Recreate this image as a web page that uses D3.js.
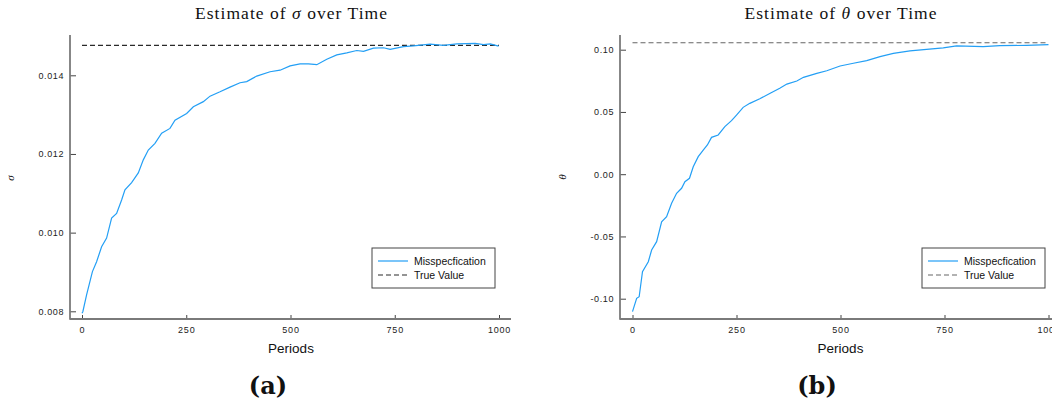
<!DOCTYPE html>
<html>
<head>
<meta charset="utf-8">
<script src="https://cdn.jsdelivr.net/npm/d3@7"></script>
<style>
  html, body { margin: 0; padding: 0; background: #fff; }
  svg { display: block; }
</style>
</head>
<body>
<svg id="chart" width="1052" height="404"></svg>
<script>
// Recursive estimates of sigma over 1000 periods
const sigmaPeriods = [0, 2, 11, 25, 35, 47, 59, 71, 83, 95, 103, 119, 135, 147, 159, 175, 191, 211, 223, 251, 267, 291, 307, 331, 355, 379, 395, 419, 451, 475, 499, 523, 543, 563, 587, 611, 635, 659, 675, 699, 723, 739, 771, 795, 835, 867, 899, 943, 963, 979, 999];
const sigmaEstimates = [0.00795, 0.00799, 0.00842, 0.00901, 0.00926, 0.00964, 0.00986, 0.01037, 0.01049, 0.01083, 0.01109, 0.01127, 0.01152, 0.01185, 0.01210, 0.01227, 0.01253, 0.01265, 0.01286, 0.01303, 0.01320, 0.01333, 0.01347, 0.01358, 0.01370, 0.01381, 0.01384, 0.01398, 0.01409, 0.01413, 0.01424, 0.01429, 0.01429, 0.01427, 0.01441, 0.01452, 0.01457, 0.01463, 0.01461, 0.01469, 0.01470, 0.01466, 0.01473, 0.01475, 0.01479, 0.01476, 0.01480, 0.01481, 0.01478, 0.01480, 0.01474];
const sigmaTrue = 0.01476;

// Recursive estimates of theta over 1000 periods
const thetaPeriods = [0, 10, 16, 24, 38, 46, 58, 70, 82, 94, 106, 118, 126, 137, 146, 158, 170, 180, 190, 206, 222, 238, 250, 266, 282, 306, 331, 354, 371, 395, 411, 443, 467, 499, 531, 563, 595, 627, 667, 707, 747, 779, 843, 883, 947, 1000];
const thetaEstimates = [-0.1104, -0.0997, -0.0984, -0.0783, -0.0703, -0.0609, -0.0542, -0.0382, -0.0341, -0.0234, -0.0153, -0.0113, -0.0060, -0.0033, 0.0060, 0.0141, 0.0194, 0.0235, 0.0296, 0.0315, 0.0382, 0.0430, 0.0475, 0.0537, 0.0569, 0.0606, 0.0650, 0.0690, 0.0724, 0.0749, 0.0778, 0.0810, 0.0831, 0.0869, 0.0891, 0.0912, 0.0944, 0.0971, 0.0990, 0.1003, 0.1014, 0.1030, 0.1024, 0.1032, 0.1035, 0.1040];
const thetaTrue = 0.1056;

// Axis ticks
const xTicks = [0, 250, 500, 750, 1000];
const sigmaTicks = [0.008, 0.010, 0.012, 0.014];
const sigmaTickLabels = ["0.008", "0.010", "0.012", "0.014"];
const thetaTicks = [-0.10, -0.05, 0.00, 0.05, 0.10];
const thetaTickLabels = ["-0.10", "-0.05", "0.00", "0.05", "0.10"];

const legendLabels = ["Misspecfication", "True Value"];
const lineColor = "#239ff5";
const axisColor = "#7a7a7a";

const svg = d3.select("#chart");

function drawPanel(p) {
  const g = svg.append("g");
  const x = d3.scaleLinear().domain([0, 1000]).range([p.x0, p.x1]);
  const y = d3.scaleLinear().domain(p.yDomain).range(p.yRange);

  // title, with the parameter symbol set in math italic
  const title = g.append("text")
    .attr("x", p.titleX).attr("y", 19)
    .attr("text-anchor", "middle")
    .attr("font-family", "Liberation Serif, serif")
    .attr("font-size", 17.5)
    .attr("textLength", 192).attr("lengthAdjust", "spacing")
    .attr("fill", "#111");
  title.append("tspan").text("Estimate of ");
  title.append("tspan").attr("font-style", "italic").text(p.yLabel);
  title.append("tspan").text(" over Time");

  // y axis ticks + labels
  const yAxis = d3.axisLeft(y)
    .tickValues(p.yTicks)
    .tickFormat((d, i) => p.yTickLabels[i])
    .tickSizeInner(-6).tickSizeOuter(0).tickPadding(6);
  const ya = g.append("g").attr("transform", `translate(${p.axisLeft},0)`).call(yAxis);
  ya.select(".domain").remove();
  ya.selectAll(".tick line").attr("stroke", "#444").attr("stroke-width", 1);
  ya.selectAll(".tick text")
    .attr("font-family", "Liberation Sans, Arial, sans-serif")
    .attr("font-size", 9).attr("letter-spacing", 0.6).attr("fill", "#222");

  // x axis ticks + labels
  const xAxis = d3.axisBottom(x)
    .tickValues(xTicks)
    .tickFormat(d3.format("d"))
    .tickSizeInner(-4).tickSizeOuter(0).tickPadding(8);
  const xa = g.append("g").attr("transform", `translate(0,${p.axisBottom})`).call(xAxis);
  xa.select(".domain").remove();
  xa.selectAll(".tick line").attr("stroke", "#444").attr("stroke-width", 1);
  xa.selectAll(".tick text")
    .attr("font-family", "Liberation Sans, Arial, sans-serif")
    .attr("font-size", 9).attr("letter-spacing", 0.8).attr("fill", "#222");

  // axis frame lines
  g.append("line")
    .attr("x1", p.axisLeft).attr("x2", p.axisLeft)
    .attr("y1", p.axisTop).attr("y2", p.axisBottom + 0.75)
    .attr("stroke", axisColor).attr("stroke-width", 1.8);
  g.append("line")
    .attr("x1", p.axisLeft).attr("x2", p.axisRight)
    .attr("y1", p.axisBottom).attr("y2", p.axisBottom)
    .attr("stroke", axisColor).attr("stroke-width", 1.8);

  // true value reference
  g.append("line")
    .attr("x1", x(0)).attr("x2", x(1000))
    .attr("y1", y(p.trueValue)).attr("y2", y(p.trueValue))
    .attr("stroke", p.dashColor).attr("stroke-width", 1.1)
    .attr("stroke-dasharray", "5,3");

  // estimate path
  const pts = p.periods.map((t, i) => [t, p.values[i]]);
  g.append("path")
    .datum(pts)
    .attr("fill", "none")
    .attr("stroke", lineColor)
    .attr("stroke-width", 1.2)
    .attr("d", d3.line().x(d => x(d[0])).y(d => y(d[1])));

  // axis titles
  g.append("text")
    .attr("x", p.periodsX).attr("y", 352.5)
    .attr("text-anchor", "middle")
    .attr("font-family", "Liberation Sans, Arial, sans-serif")
    .attr("font-size", 13.5).attr("fill", "#111")
    .text("Periods");
  g.append("text")
    .attr("transform", `translate(${p.yLabelX},${p.yLabelY}) rotate(-90)`)
    .attr("text-anchor", "middle")
    .attr("font-family", "Liberation Serif, serif")
    .attr("font-style", "italic")
    .attr("font-size", 11).attr("fill", "#111")
    .text(p.yLabel);

  // panel letter
  g.append("text")
    .attr("x", p.letterX).attr("y", 394)
    .attr("text-anchor", "middle")
    .attr("font-family", "DejaVu Serif, serif")
    .attr("font-weight", "bold")
    .attr("font-size", 24).attr("fill", "#111")
    .text(p.letter);

  // legend
  const lg = g.append("g").attr("transform", `translate(${p.legendX},248)`);
  lg.append("rect").attr("width", 123).attr("height", 40)
    .attr("fill", "#fff").attr("stroke", "#444").attr("stroke-width", 1);
  lg.append("line").attr("x1", 6).attr("x2", 36).attr("y1", 13).attr("y2", 13)
    .attr("stroke", lineColor).attr("stroke-width", 1.2);
  lg.append("line").attr("x1", 6).attr("x2", 36).attr("y1", 27).attr("y2", 27)
    .attr("stroke", p.dashColor).attr("stroke-width", 1.1).attr("stroke-dasharray", "5,3");
  legendLabels.forEach((lab, i) => {
    lg.append("text")
      .attr("x", 42).attr("y", 13 + i * 14).attr("dy", "0.35em")
      .attr("font-family", "Liberation Sans, Arial, sans-serif")
      .attr("font-size", 10.5).attr("fill", "#111")
      .text(lab);
  });
}

drawPanel({
  titleX: 291,
  x0: 82, x1: 499,
  yDomain: [0.008, 0.014], yRange: [311.3, 75.3],
  yTicks: sigmaTicks, yTickLabels: sigmaTickLabels,
  axisLeft: 70, axisRight: 511, axisTop: 35, axisBottom: 319,
  periods: sigmaPeriods, values: sigmaEstimates, trueValue: sigmaTrue,
  dashColor: "#2a2a2a",
  periodsX: 291, yLabel: "σ", yLabelX: 14, yLabelY: 178,
  letter: "(a)", letterX: 268, legendX: 372
});

drawPanel({
  titleX: 840.5,
  x0: 632.5, x1: 1048.5,
  yDomain: [-0.10, 0.10], yRange: [298.7, 49.7],
  yTicks: thetaTicks, yTickLabels: thetaTickLabels,
  axisLeft: 620, axisRight: 1061, axisTop: 35, axisBottom: 319,
  periods: thetaPeriods, values: thetaEstimates, trueValue: thetaTrue,
  dashColor: "#666",
  periodsX: 840.5, yLabel: "θ", yLabelX: 566, yLabelY: 177,
  letter: "(b)", letterX: 817, legendX: 922
});
</script>
</body>
</html>
